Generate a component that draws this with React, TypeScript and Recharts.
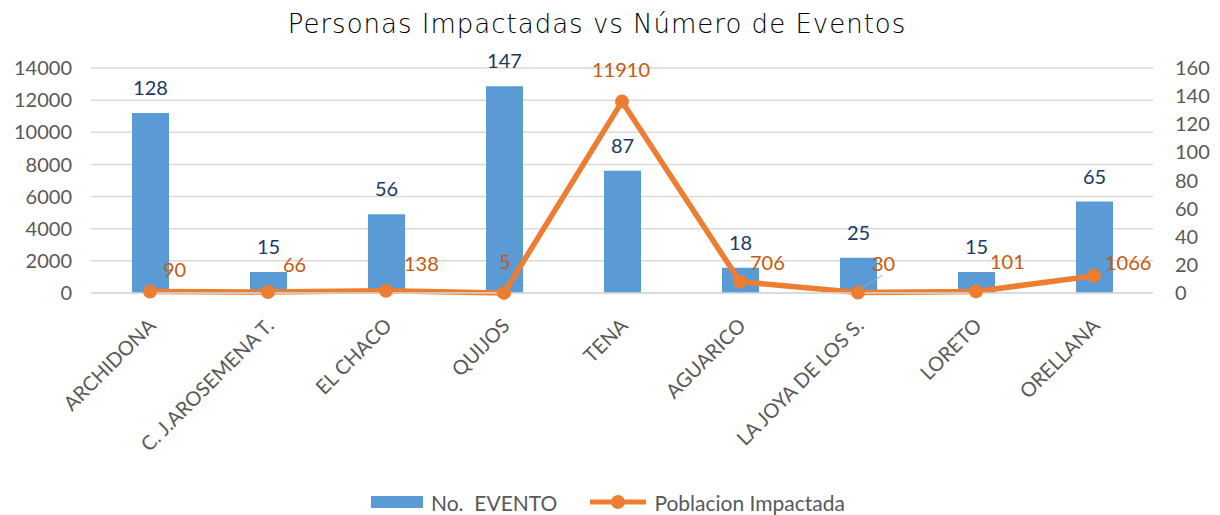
import React from 'react'
import { ComposedChart, Bar, Line, XAxis, YAxis, CartesianGrid, LabelList } from 'recharts'

const categories = [
  'ARCHIDONA',
  'C. J.AROSEMENA T.',
  'EL CHACO',
  'QUIJOS',
  'TENA',
  'AGUARICO',
  'LA JOYA DE LOS S.',
  'LORETO',
  'ORELLANA',
]
const eventos = [128, 15, 56, 147, 87, 18, 25, 15, 65]
const poblacion = [90, 66, 138, 5, 11910, 706, 30, 101, 1066]
const leftTicks = [0, 2000, 4000, 6000, 8000, 10000, 12000, 14000]
const rightTicks = [0, 20, 40, 60, 80, 100, 120, 140, 160]

const BAR = '#5B9BD5'
const LINE = '#ED7D31'
const AXIS_TEXT = '#595959'
const FONT = 'Lato, "Open Sans", sans-serif'

// nudges for the orange labels, same order as categories: [dx, dy, leader line]
const lineLabelNudge: [number, number, boolean][] = [
  [13, -15, false],
  [15, -20, false],
  [18, -20, false],
  [-5, -24, false],
  [-30, -25, false],
  [10, -12, false],
  [14, -22, true],
  [14, -22, false],
  [11, -6, false],
]

const data = categories.map((name, i) => ({
  name,
  eventos: eventos[i],
  poblacion: poblacion[i],
}))

function CategoryTick({ x, y, payload }: any) {
  return (
    <g transform={`translate(${x + 7},${y + 26})`}>
      <text
        x={0}
        y={0}
        textAnchor="end"
        transform="rotate(-45)"
        fill={AXIS_TEXT}
        fontSize={20}
        fontFamily={FONT}
      >
        {payload.value}
      </text>
    </g>
  )
}

function BarValue({ x, y, width, value }: any) {
  return (
    <text x={x + width / 2} y={y - 18} textAnchor="middle" fill="#203864" fontSize={20} fontFamily={FONT}>
      {value}
    </text>
  )
}

function LineValue({ x, y, value, index }: any) {
  const [dx, dy, leader] = lineLabelNudge[index]
  return (
    <g>
      {leader && <line x1={x + 2} y1={y - 3} x2={x + 24} y2={y - 17} stroke="#A6A6A6" strokeWidth={1} />}
      <text x={x + dx} y={y + dy} textAnchor="start" fill="#C55A11" fontSize={20} fontFamily={FONT}>
        {value}
      </text>
    </g>
  )
}

export default function App() {
  return (
    <div style={{ position: 'absolute', left: 0, top: 0, width: 1220, height: 515, background: '#fff' }}>
      <div
        style={{
          position: 'absolute',
          left: 0,
          top: 9,
          width: 1194,
          textAlign: 'center',
          fontFamily: '"DejaVu Sans", sans-serif',
          fontWeight: 200,
          fontSize: 26,
          letterSpacing: 1,
          color: '#000',
        }}
      >
        Personas Impactadas vs Número de Eventos
      </div>
      <ComposedChart width={1220} height={515} data={data} margin={{ top: 68, right: 0, bottom: 0, left: 0 }}>
        <CartesianGrid yAxisId="left" vertical={false} stroke="#D9D9D9" strokeWidth={1.5} />
        <XAxis
          dataKey="name"
          height={222}
          interval={0}
          tick={<CategoryTick />}
          tickLine={false}
          axisLine={{ stroke: '#D9D9D9', strokeWidth: 1.5 }}
        />
        <YAxis
          yAxisId="left"
          orientation="left"
          width={91}
          domain={[0, 14000]}
          ticks={leftTicks}
          interval={0}
          tickLine={false}
          axisLine={false}
          tickMargin={13}
          tick={{ fill: AXIS_TEXT, fontSize: 20, fontFamily: FONT }}
        />
        <YAxis
          yAxisId="right"
          orientation="right"
          width={67}
          domain={[0, 160]}
          ticks={rightTicks}
          interval={0}
          tickLine={false}
          axisLine={false}
          tickMargin={16}
          tick={{ fill: AXIS_TEXT, fontSize: 20, fontFamily: FONT, textAnchor: 'start' }}
        />
        <Bar yAxisId="right" dataKey="eventos" fill={BAR} barSize={37} isAnimationActive={false}>
          <LabelList dataKey="eventos" content={<BarValue />} />
        </Bar>
        <Line
          yAxisId="left"
          dataKey="poblacion"
          type="linear"
          stroke={LINE}
          strokeWidth={5.5}
          dot={{ r: 7, fill: LINE, stroke: LINE, strokeWidth: 0 }}
          isAnimationActive={false}
        >
          <LabelList dataKey="poblacion" content={<LineValue />} />
        </Line>
      </ComposedChart>
      <div
        style={{
          position: 'absolute',
          left: 371,
          top: 489,
          height: 26,
          display: 'flex',
          alignItems: 'center',
          fontFamily: FONT,
          fontSize: 21,
          color: AXIS_TEXT,
          whiteSpace: 'pre',
        }}
      >
        <span style={{ display: 'inline-block', width: 52, height: 12, background: BAR, marginRight: 8 }} />
        <span>No.  EVENTO</span>
        <svg width={56} height={20} style={{ marginLeft: 33, marginRight: 8 }}>
          <line x1={0} y1={10} x2={56} y2={10} stroke={LINE} strokeWidth={5} strokeLinecap="round" />
          <circle cx={28} cy={10} r={7} fill={LINE} />
        </svg>
        <span>Poblacion Impactada</span>
      </div>
    </div>
  )
}
